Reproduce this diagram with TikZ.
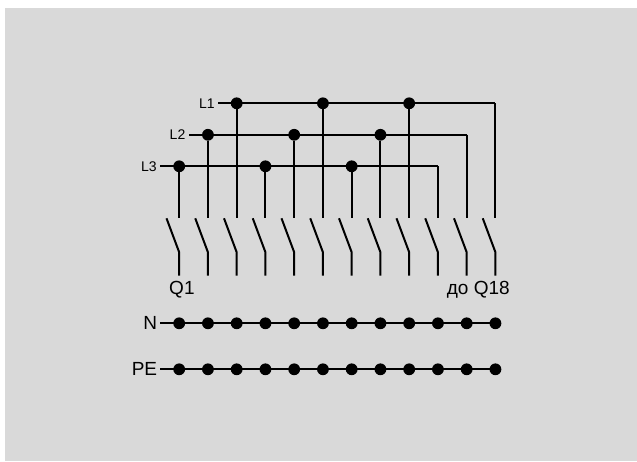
\documentclass[tikz,border=0pt]{standalone}
\usepackage{fontspec}
\setmainfont{Liberation Sans}
\usetikzlibrary{positioning}

\tikzset{
	wire/.style={line width=2pt},
	dot/.style={circle, fill=black, inner sep=0pt, minimum size=11.8pt},
	small/.style={font=\fontsize{14}{14}\selectfont, inner sep=0pt},
	big/.style={font=\fontsize{19}{19}\selectfont, inner sep=0pt}
}

\begin{document}
\begin{tikzpicture}[x=1pt, y=-1pt]
	\useasboundingbox (0,0) rectangle (637,461);
	\fill [white] (0,0) rectangle (637,461);
	\fill [black!15] (5,8) rectangle (637,461);

	% Fases
	\coordinate (s1) at (218.3,103.3);
	\coordinate (s2) at (189,134.7);
	\coordinate (s3) at (160.3,166.3);
	\node[small, left=3.5pt of s1] (L1) {L1};
	\node[small, left=3.5pt of s2] (L2) {L2};
	\node[small, left=3.5pt of s3] (L3) {L3};
	\coordinate (e1) at (179.2+11*28.75,103.3);
	\coordinate (e2) at (179.2+10*28.75,134.7);
	\coordinate (e3) at (179.2+9*28.75,166.3);
	\foreach \f in {1,2,3}
		\draw [wire] (s\f) -- (e\f);

	% Interruptores
	\foreach \c in {0,...,11}
	{
		\coordinate (top\c) at (179.2+\c*28.75,217.7);
		\coordinate (tip\c) at (166.5+\c*28.75,218.3);
		\coordinate (hinge\c) at (179.2+\c*28.75,252.3);
		\coordinate (end\c) at (179.2+\c*28.75,275.7);
		\draw [wire, line join=round] (tip\c) -- (hinge\c) -- (end\c);
	}

	% Derivaciones desde las fases
	\foreach \c/\f in {0/3,3/3,6/3,1/2,4/2,7/2,2/1,5/1,8/1}
	{
		\node[dot] (d\c) at (179.2+\c*28.75,\f*31.5+71.8) {};
		\draw [wire] (d\c) -- (top\c);
	}
	\foreach \c/\f in {9/3,10/2,11/1}
		\draw [wire, line join=round] (e\f) -- (top\c);

	\node[big, below=5.5pt of end0, xshift=2.7pt] (Q1) {Q1};
	\node[big, below=5.5pt of end11, anchor=north east, xshift=14.5pt] (Q18) {до Q18};

	% Barras N y PE
	\coordinate (sn) at (160.3,323.3);
	\coordinate (spe) at (160.3,369.3);
	\node[big, left=3pt of sn] (N) {N};
	\node[big, left=3pt of spe] (PE) {PE};
	\foreach \c in {0,...,11}
	{
		\node[dot] (n\c) at (179.2+\c*28.75,323.3) {};
		\node[dot] (p\c) at (179.2+\c*28.75,369.3) {};
	}
	\draw [wire] (sn) -- (n11.center);
	\draw [wire] (spe) -- (p11.center);
\end{tikzpicture}
\end{document}
